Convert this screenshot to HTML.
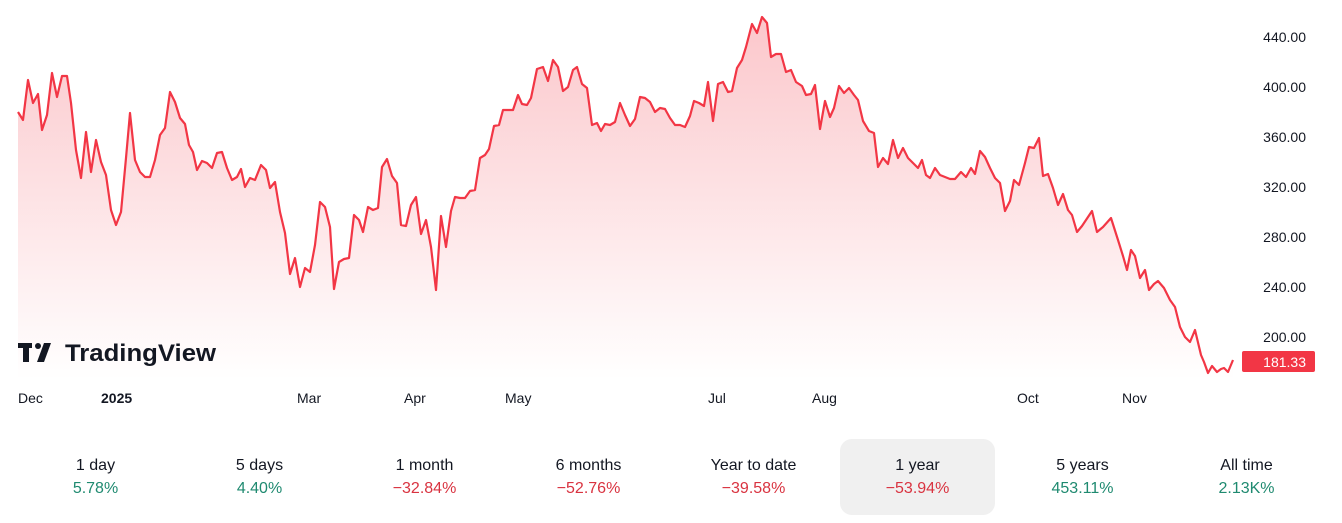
<!DOCTYPE html>
<html><head><meta charset="utf-8"><style>
body{margin:0;width:1342px;height:523px;background:#fff;font-family:"Liberation Sans",sans-serif;overflow:hidden;position:relative}
.yl{position:absolute;right:36px;font-size:14px;color:#131722;transform:translateY(-50%)}
.xl{position:absolute;top:390px;font-size:14px;color:#131722}
.tab{position:absolute;top:439px;width:155px;height:76px;text-align:center;font-size:16px;color:#131722}
.tab .a{margin-top:18px}
.tab .v{margin-top:5px}
.g{color:#1f8a70}.r{color:#d93340}
</style></head><body>
<svg width="1342" height="523" style="position:absolute;left:0;top:0">
<defs><linearGradient id="gr" x1="0" y1="0" x2="0" y2="1"><stop offset="0" stop-color="#f23645" stop-opacity="0.28"/><stop offset="1" stop-color="#f23645" stop-opacity="0"/></linearGradient></defs>
<polygon fill="url(#gr)" points="18,380 18,112 23,120 28,80 33,103 38,94 42,130 47,115 52,73 57,97 62,76 67,76 71,103 76,150 81,178 86,132 91,172 96,140 101,162 106,175 111,210 116,225 121,212 126,158 130,113 135,160 140,172 145,177 150,177 155,160 160,135 165,128 170,92 175,102 180,118 185,124 189,145 193,152 197,170 202,161 207,163 212,168 217,153 222,152 227,168 232,180 237,177 241,169 245,187 250,178 255,180 261,165 266,170 270,188 275,182 280,212 285,233 290,274 295,258 300,287 305,268 310,272 315,245 320,202 325,207 330,227 334,289 339,262 344,259 349,258 354,215 359,220 363,232 368,207 373,210 378,208 382,167 387,159 392,176 397,183 401,225 406,226 411,205 416,197 421,234 426,220 431,247 436,290 441,216 446,247 451,211 455,197 460,198 465,198 470,191 475,190 480,158 485,155 489,149 494,126 499,125 503,110 508,110 513,110 518,95 522,104 527,105 531,98 537,69 543,67 548,81 553,60 558,67 563,91 568,87 573,70 577,67 582,84 587,88 592,125 597,123 601,131 605,124 610,125 615,122 620,103 625,115 630,126 635,119 640,97 645,98 650,102 655,112 660,108 665,109 670,118 675,125 680,125 685,127 690,116 694,101 699,103 704,106 708,82 713,121 718,84 723,82 728,92 732,91 737,68 742,60 746,47 752,24 757,33 762,17 767,23 771,57 776,54 781,54 786,72 791,70 796,82 802,86 806,95 811,94 815,85 820,129 825,101 830,117 834,108 839,86 844,93 849,88 854,95 858,100 863,121 869,131 874,133 878,167 883,158 888,164 893,140 898,158 903,148 908,158 913,163 918,168 922,160 926,175 930,178 935,168 940,175 945,177 950,179 955,179 961,172 966,177 971,168 975,174 980,151 985,157 990,168 995,178 1000,183 1005,211 1010,201 1014,180 1019,185 1025,163 1029,147 1034,148 1039,138 1043,176 1048,174 1053,188 1058,205 1063,194 1068,210 1072,215 1077,232 1082,226 1092,211 1097,232 1103,227 1111,218 1118,240 1123,256 1127,270 1131,250 1135,256 1140,278 1145,270 1149,290 1154,284 1158,281 1164,288 1170,300 1175,307 1180,327 1185,337 1190,342 1195,330 1201,355 1204,362 1208,373 1212,366 1217,372 1221,369 1224,368 1228,372 1233,360 1233,380"/>
<polyline fill="none" stroke="#f23645" stroke-width="2.2" stroke-linejoin="round" points="18,112 23,120 28,80 33,103 38,94 42,130 47,115 52,73 57,97 62,76 67,76 71,103 76,150 81,178 86,132 91,172 96,140 101,162 106,175 111,210 116,225 121,212 126,158 130,113 135,160 140,172 145,177 150,177 155,160 160,135 165,128 170,92 175,102 180,118 185,124 189,145 193,152 197,170 202,161 207,163 212,168 217,153 222,152 227,168 232,180 237,177 241,169 245,187 250,178 255,180 261,165 266,170 270,188 275,182 280,212 285,233 290,274 295,258 300,287 305,268 310,272 315,245 320,202 325,207 330,227 334,289 339,262 344,259 349,258 354,215 359,220 363,232 368,207 373,210 378,208 382,167 387,159 392,176 397,183 401,225 406,226 411,205 416,197 421,234 426,220 431,247 436,290 441,216 446,247 451,211 455,197 460,198 465,198 470,191 475,190 480,158 485,155 489,149 494,126 499,125 503,110 508,110 513,110 518,95 522,104 527,105 531,98 537,69 543,67 548,81 553,60 558,67 563,91 568,87 573,70 577,67 582,84 587,88 592,125 597,123 601,131 605,124 610,125 615,122 620,103 625,115 630,126 635,119 640,97 645,98 650,102 655,112 660,108 665,109 670,118 675,125 680,125 685,127 690,116 694,101 699,103 704,106 708,82 713,121 718,84 723,82 728,92 732,91 737,68 742,60 746,47 752,24 757,33 762,17 767,23 771,57 776,54 781,54 786,72 791,70 796,82 802,86 806,95 811,94 815,85 820,129 825,101 830,117 834,108 839,86 844,93 849,88 854,95 858,100 863,121 869,131 874,133 878,167 883,158 888,164 893,140 898,158 903,148 908,158 913,163 918,168 922,160 926,175 930,178 935,168 940,175 945,177 950,179 955,179 961,172 966,177 971,168 975,174 980,151 985,157 990,168 995,178 1000,183 1005,211 1010,201 1014,180 1019,185 1025,163 1029,147 1034,148 1039,138 1043,176 1048,174 1053,188 1058,205 1063,194 1068,210 1072,215 1077,232 1082,226 1092,211 1097,232 1103,227 1111,218 1118,240 1123,256 1127,270 1131,250 1135,256 1140,278 1145,270 1149,290 1154,284 1158,281 1164,288 1170,300 1175,307 1180,327 1185,337 1190,342 1195,330 1201,355 1204,362 1208,373 1212,366 1217,372 1221,369 1224,368 1228,372 1233,360"/>
<rect x="1242" y="351" width="73" height="21" rx="2" fill="#f23645"/>
<text x="1306" y="367" text-anchor="end" font-family="Liberation Sans" font-size="14" fill="#fff">181.33</text>
<g fill="#131722"><rect x="18" y="343" width="14" height="5"/><rect x="23" y="343" width="6" height="19"/><circle cx="38" cy="346" r="3"/><polygon points="44,343 51,343 44,362 37,362"/></g>
<text x="65" y="361" font-family="Liberation Sans" font-weight="bold" font-size="24" fill="#131722" textLength="151" lengthAdjust="spacingAndGlyphs">TradingView</text>
</svg>
<div class="yl" style="top:37px">440.00</div>
<div class="yl" style="top:87px">400.00</div>
<div class="yl" style="top:137px">360.00</div>
<div class="yl" style="top:187px">320.00</div>
<div class="yl" style="top:237px">280.00</div>
<div class="yl" style="top:287px">240.00</div>
<div class="yl" style="top:337px">200.00</div>
<div class="xl" style="left:18px">Dec</div>
<div class="xl" style="left:101px;font-weight:bold">2025</div>
<div class="xl" style="left:297px">Mar</div>
<div class="xl" style="left:404px">Apr</div>
<div class="xl" style="left:505px">May</div>
<div class="xl" style="left:708px">Jul</div>
<div class="xl" style="left:812px">Aug</div>
<div class="xl" style="left:1017px">Oct</div>
<div class="xl" style="left:1122px">Nov</div>
<div class="tab" style="left:18px"><div class="a">1 day</div><div class="v g">5.78%</div></div>
<div class="tab" style="left:182px"><div class="a">5 days</div><div class="v g">4.40%</div></div>
<div class="tab" style="left:347px"><div class="a">1 month</div><div class="v r">−32.84%</div></div>
<div class="tab" style="left:511px"><div class="a">6 months</div><div class="v r">−52.76%</div></div>
<div class="tab" style="left:676px"><div class="a">Year to date</div><div class="v r">−39.58%</div></div>
<div class="tab" style="left:840px;background:#f0f0f0;border-radius:12px"><div class="a">1 year</div><div class="v r">−53.94%</div></div>
<div class="tab" style="left:1005px"><div class="a">5 years</div><div class="v g">453.11%</div></div>
<div class="tab" style="left:1169px"><div class="a">All time</div><div class="v g">2.13K%</div></div>
</body></html>
